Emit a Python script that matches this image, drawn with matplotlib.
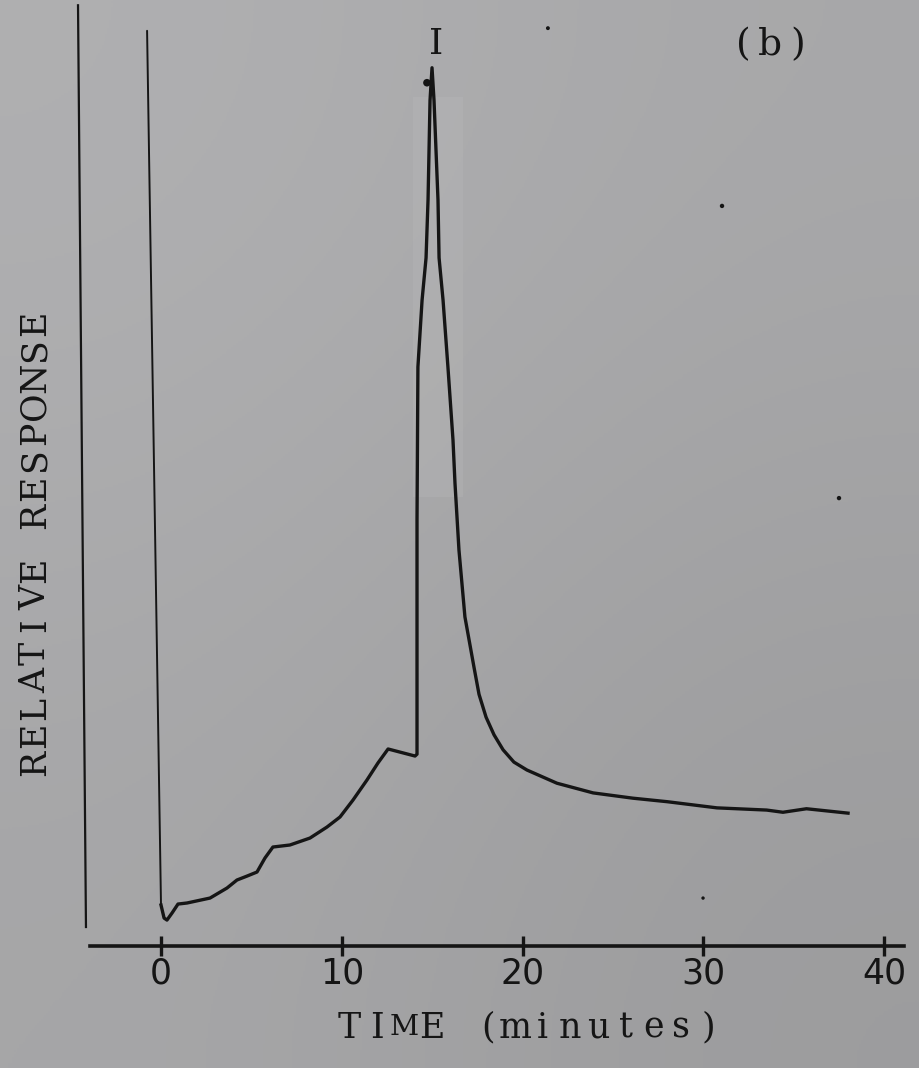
import matplotlib.pyplot as plt
import numpy as np
from matplotlib.patches import Rectangle

# trace (time in minutes, response in arbitrary units)
t_trace = [-0.77, 0.0, 0.17, 0.33, 0.61, 0.94, 1.44, 2.71, 3.65, 4.20, 4.76, 5.31,
           5.75, 6.19, 7.13, 8.24, 9.18, 9.90, 10.62, 11.39, 12.0, 12.56, 14.05,
           14.16, 14.16, 14.21, 14.44, 14.66, 14.77, 14.88, 14.99, 15.10, 15.32,
           15.38, 15.60, 15.87, 16.15, 16.26, 16.48, 16.81, 17.31, 17.59, 17.98,
           18.42, 18.92, 19.52, 20.24, 21.9, 23.9, 26.1, 28.0, 30.75, 33.5, 34.4,
           35.7, 38.0]
r_trace = [104.0, 4.66, 3.18, 2.95, 3.75, 4.77, 4.89, 5.45, 6.59, 7.5, 7.95, 8.41,
           10.0, 11.25, 11.48, 12.27, 13.52, 14.66, 16.59, 18.86, 20.8, 22.39, 21.59,
           21.8, 48.4, 65.8, 73.4, 78.2, 84.8, 96.1, 99.8, 96.1, 84.8,
           78.2, 73.4, 65.8, 57.5, 52.6, 45.0, 37.4, 31.7, 28.6, 26.0,
           24.0, 22.3, 20.9, 20.0, 18.5, 17.4, 16.8, 16.4, 15.7, 15.45, 15.2,
           15.6, 15.1]

# the other pen line at the left edge
t_left = [-4.59, -4.15]
r_left = [106.9, 2.16]

# stray specks on the scan
speck_t = [21.4, 31.03, 37.5, 29.98, 14.71]
speck_r = [104.3, 84.1, 50.9, 5.45, 98.1]

ticks = [0, 10, 20, 30, 40]
tick_labels = ['0', '10', '20', '30', '40']

xlabel = 'TIME (minutes)'
ylabel = 'RELATIVE RESPONSE'
peak_label = 'I'
panel_label = '(b)'

ink = '#151515'
serif = 'DejaVu Serif'

fig = plt.figure(figsize=(9.19, 10.68), dpi=100)

# paper background, slightly lighter top-left
bg = fig.add_axes([0, 0, 1, 1])
grad = np.array([[176, 168], [166, 156]], dtype=float) / 255.0
bg.imshow(np.dstack([grad, grad, grad * 1.01]).clip(0, 1), aspect='auto',
          interpolation='bicubic', extent=[0, 1, 0, 1])
bg.set_axis_off()

ax = fig.add_axes([0, 0, 1, 1])
ax.patch.set_alpha(0)
ax.set_xlim(-8.905, 41.925)
ax.set_ylim(-13.86, 107.5)

# faint glare around the peak
ax.add_patch(Rectangle((13.95, 51.0), 2.75, 45.5, color='white', alpha=0.06, lw=0))

# first part of the trace thinner (fast pen movement)
ax.plot(t_trace[:2], r_trace[:2], color=ink, lw=1.4, solid_capstyle='round')
ax.plot(t_trace[1:], r_trace[1:], color=ink, lw=2.4, solid_joinstyle='round')
ax.plot(t_left, r_left, color=ink, lw=1.6)

ax.scatter(speck_t, speck_r, s=[8, 10, 10, 6, 30], color=ink, lw=0)

for s in ['left', 'right', 'top']:
    ax.spines[s].set_visible(False)
ax.spines['bottom'].set_position(('data', 0))
ax.spines['bottom'].set_bounds(-3.9, 41.1)
ax.spines['bottom'].set_linewidth(2.6)
ax.spines['bottom'].set_color(ink)
ax.set_yticks([])
ax.set_xticks(ticks)
ax.set_xticklabels(tick_labels, fontsize=25, color=ink, family='DejaVu Sans')
ax.tick_params(axis='x', direction='inout', length=15, width=2.4, color=ink, pad=0)


def typewrite(s, x, y, dx, dy, size, rot=0):
    # typewriter text: every character on a fixed pitch
    n = len(s)
    for i, ch in enumerate(s):
        k = i - (n - 1) / 2
        fs = size * 0.82 if ch == 'M' else size  # keep wide M inside its cell
        ax.text(x + k * dx, y + k * dy, ch, family=serif, fontsize=fs,
                color=ink, ha='center', va='center', rotation=rot)


typewrite(xlabel, 20.35, -9.3, 1.527, 0, 25)
typewrite(ylabel, -6.97, 45.8, 0, 3.125, 25, rot=90)
typewrite(peak_label, 15.2, 102.5, 0, 0, 26)
typewrite(panel_label, 33.7, 102.4, 1.5, 0, 27)

fig.savefig('out.png', dpi=100)
